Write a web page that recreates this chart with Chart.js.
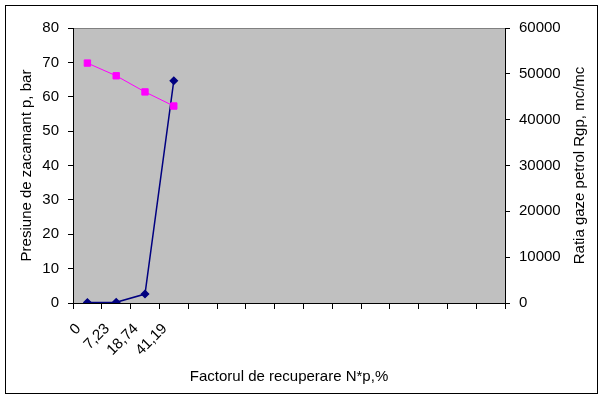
<!DOCTYPE html>
<html>
<head>
<meta charset="utf-8">
<script src="https://cdn.jsdelivr.net/npm/chart.js@4/dist/chart.umd.min.js"></script>
<style>
  html, body { margin: 0; padding: 0; background: #fff; }
  canvas { display: block; }
</style>
</head>
<body>
<canvas id="chart" width="605" height="400"></canvas>
<script>
// category labels on the x axis (Excel leaves the rest empty)
const categories = ['0', '7,23', '18,74', '41,19', '', '', '', '', '', '', '', '', '', '', ''];
// Presiune de zacamant p, bar (left axis)
const presiune = [69.8, 66.1, 61.4, 57.3];
// Ratia gaze petrol Rgp, mc/mc (right axis)
const ratia = [120, 150, 1950, 48500];

const leftTicks = [0, 10, 20, 30, 40, 50, 60, 70, 80];
const rightTicks = [0, 10000, 20000, 30000, 40000, 50000, 60000];

const FONT = { family: '"Liberation Sans", Arial, sans-serif', size: 15 };

const backdrop = {
  id: 'backdrop',
  beforeDraw(chart) {
    const { ctx, chartArea: a } = chart;
    ctx.save();
    ctx.fillStyle = '#fff';
    ctx.fillRect(0, 0, chart.width, chart.height);
    ctx.strokeStyle = '#000';
    ctx.lineWidth = 1;
    ctx.strokeRect(5.5, 5.5, 592, 388);
    ctx.fillStyle = '#c0c0c0';
    ctx.fillRect(a.left, a.top, a.right - a.left, a.bottom - a.top);
    ctx.strokeStyle = '#808080';
    ctx.beginPath();
    ctx.moveTo(a.left, a.top + 0.5);
    ctx.lineTo(a.right, a.top + 0.5);
    ctx.stroke();
    ctx.restore();
  },
  afterDraw(chart) {
    // right axis title reads bottom-to-top like the left one
    const { ctx, chartArea: a } = chart;
    ctx.save();
    ctx.fillStyle = '#000';
    ctx.font = FONT.size + 'px ' + FONT.family;
    ctx.textAlign = 'center';
    ctx.textBaseline = 'middle';
    ctx.translate(580, (a.top + a.bottom) / 2);
    ctx.rotate(-Math.PI / 2);
    ctx.fillText('Ratia gaze petrol Rgp, mc/mc', 0, 0);
    ctx.restore();
  }
};

new Chart(document.getElementById('chart'), {
  type: 'line',
  data: {
    labels: categories,
    datasets: [
      {
        label: 'Presiune',
        data: presiune,
        yAxisID: 'y',
        borderColor: '#ff00ff',
        backgroundColor: '#ff00ff',
        borderWidth: 1,
        pointStyle: 'rect',
        pointRadius: 4.5,
        tension: 0
      },
      {
        label: 'Ratia',
        data: ratia,
        yAxisID: 'y2',
        borderColor: '#000080',
        backgroundColor: '#000080',
        borderWidth: 1.5,
        pointStyle: 'rectRot',
        pointRadius: 3.5,
        tension: 0
      }
    ]
  },
  options: {
    responsive: false,
    animation: false,
    layout: { padding: { top: 28, left: 0, right: 0, bottom: 0 } },
    plugins: { legend: { display: false }, tooltip: { enabled: false } },
    scales: {
      x: {
        offset: true,
        grid: { offset: true, drawOnChartArea: false, color: '#000', tickLength: 6 },
        border: { color: '#000', width: 1 },
        ticks: {
          color: '#000', font: FONT, autoSkip: false,
          minRotation: 45, maxRotation: 45, labelOffset: -9, padding: 11
        },
        title: {
          display: true, text: 'Factorul de recuperare N*p,%', color: '#000', font: FONT,
          padding: { top: 0, bottom: 14 }
        },
        afterFit: s => { s.height = 97; }
      },
      y: {
        position: 'left',
        min: 0, max: 80,
        afterBuildTicks: s => { s.ticks = leftTicks.map(v => ({ value: v })); },
        grid: { drawOnChartArea: false, color: '#000', tickLength: 5 },
        border: { color: '#000', width: 1 },
        ticks: { color: '#000', font: FONT, padding: 9 },
        title: {
          display: true, text: 'Presiune de zacamant p, bar', color: '#000', font: FONT,
          padding: { top: 18, bottom: 0 }
        },
        afterFit: s => { s.width = 73; }
      },
      y2: {
        position: 'right',
        min: 0, max: 60000,
        afterBuildTicks: s => { s.ticks = rightTicks.map(v => ({ value: v })); },
        grid: { drawOnChartArea: false, color: '#000', tickLength: 5 },
        border: { color: '#000', width: 1 },
        ticks: { color: '#000', font: FONT, padding: 9, callback: v => String(v) },
        afterFit: s => { s.width = 100; }
      }
    }
  },
  plugins: [backdrop]
});
</script>
</body>
</html>
